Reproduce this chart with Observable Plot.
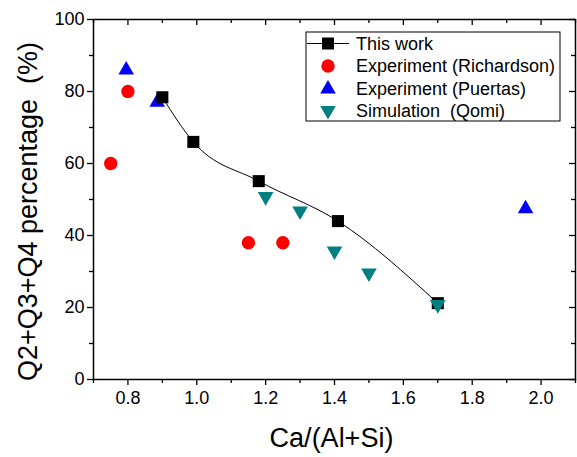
<!DOCTYPE html>
<html>
<head>
<meta charset="utf-8">
<script src="https://cdn.jsdelivr.net/npm/d3@7"></script>
<script src="https://cdn.jsdelivr.net/npm/@observablehq/plot@0.6"></script>
<style>
  body { margin: 0; background: #fff; }
  svg { font-family: "Liberation Sans", Arial, sans-serif; }
</style>
</head>
<body>
<div id="chart"></div>
<script>
// Data
const thisWorkX = [0.90, 0.99, 1.18, 1.41, 1.70];
const thisWorkY = [78.4, 66.0, 55.1, 44.0, 21.2];
const richardsonX = [0.75, 0.80, 1.15, 1.25];
const richardsonY = [60.0, 80.0, 38.0, 38.0];
const puertasX = [0.795, 0.885, 1.955];
const puertasY = [86.0, 77.0, 47.4];
const qomiX = [1.20, 1.30, 1.40, 1.50, 1.70];
const qomiY = [50.8, 46.8, 35.7, 29.6, 20.8];

const xMajor = [0.8, 1.0, 1.2, 1.4, 1.6, 1.8, 2.0];
const xMinor = [0.7, 0.9, 1.1, 1.3, 1.5, 1.7, 1.9, 2.1];
const yMajor = [0, 20, 40, 60, 80, 100];
const yMinor = [10, 30, 50, 70, 90];

const legendLabels = ["This work", "Experiment (Richardson)", "Experiment (Puertas)", "Simulation  (Qomi)"];

const zip = (xs, ys) => xs.map((x, i) => ({x, y: ys[i]}));
const thisWork = zip(thisWorkX, thisWorkY);
const richardson = zip(richardsonX, richardsonY);
const puertas = zip(puertasX, puertasY);
const qomi = zip(qomiX, qomiY);

const W = 577, H = 457, mL = 93, mR = 2, mT = 19, mB = 78;
const plotW = W - mL - mR, plotH = H - mT - mB;

const chart = Plot.plot({
  width: W, height: H,
  marginLeft: mL, marginRight: mR, marginTop: mT, marginBottom: mB,
  x: {domain: [0.7, 2.1]},
  y: {domain: [0, 100]},
  style: {fontFamily: '"Liberation Sans", Arial, sans-serif', background: "#fff", color: "#000"},
  marks: [
    // inward top / right ticks
    Plot.tickX(xMajor, {x: d => d, insetBottom: plotH - 6, stroke: "#000", strokeWidth: 1.3}),
    Plot.tickX(xMinor, {x: d => d, insetBottom: plotH - 4, stroke: "#000", strokeWidth: 1.3}),
    Plot.tickY(yMajor, {y: d => d, insetLeft: plotW - 6, stroke: "#000", strokeWidth: 1.3}),
    Plot.tickY(yMinor, {y: d => d, insetLeft: plotW - 4, stroke: "#000", strokeWidth: 1.3}),
    // outward bottom / left axes
    Plot.axisX({anchor: "bottom", ticks: xMajor, tickSize: 6, tickPadding: 6, tickFormat: d3.format(".1f"), fontSize: 18, label: null, strokeWidth: 1.3}),
    Plot.axisX({anchor: "bottom", ticks: xMinor, tickSize: 4, fill: "none", label: null, strokeWidth: 1.3}),
    Plot.axisY({anchor: "left", ticks: yMajor, tickSize: 6, tickPadding: 3, tickFormat: d3.format("d"), fontSize: 18, label: null, strokeWidth: 1.3}),
    Plot.axisY({anchor: "left", ticks: yMinor, tickSize: 4, fill: "none", label: null, strokeWidth: 1.3}),
    Plot.frame({stroke: "#000", strokeWidth: 1.5}),
    // axis titles
    Plot.text(["Ca/(Al+Si)"], {frameAnchor: "bottom", textAnchor: "middle", lineAnchor: "bottom", dy: 67, dx: -3, fontSize: 27, fill: "#000"}),
    Plot.text(["Q2+Q3+Q4 percentage  (%)"], {frameAnchor: "left", textAnchor: "middle", lineAnchor: "bottom", rotate: -90, dx: -57, dy: 12, fontSize: 27, fill: "#000"}),
    // data
    Plot.line(thisWork, {x: "x", y: "y", curve: "monotone-x", stroke: "#000", strokeWidth: 1}),
    Plot.dot(richardson, {x: "x", y: "y", symbol: "circle", r: 6.7, fill: "#ff0000"}),
    Plot.dot(puertas, {x: "x", y: "y", symbol: "triangle", r: 5.8, fill: "#0000ff"}),
    Plot.dot(thisWork, {x: "x", y: "y", symbol: "square", r: 6.8, fill: "#000"}),
    Plot.dot(qomi, {x: "x", y: "y", symbol: "triangle", r: 5.8, rotate: 180, fill: "#008080"})
  ]
});

document.getElementById("chart").appendChild(chart);

// Legend (inside the plot area, top right)
const svg = d3.select(chart);
const lg = svg.append("g").attr("class", "legend").attr("text-anchor", "start");
const box = {x: 306, y: 32, w: 254, h: 89};
lg.append("rect").attr("x", box.x).attr("y", box.y).attr("width", box.w).attr("height", box.h)
  .attr("fill", "#fff").attr("stroke", "#000").attr("stroke-width", 1);
const rowY = [43.5, 66, 89, 110.5];
const symX = 328, textX = 356;
// row 0: line + square
lg.append("line").attr("x1", 307).attr("x2", 349).attr("y1", rowY[0]).attr("y2", rowY[0]).attr("stroke", "#000").attr("stroke-width", 1);
lg.append("path").attr("d", d3.symbol(d3.symbolSquare, 144)()).attr("transform", `translate(${symX},${rowY[0]})`).attr("fill", "#000");
lg.append("path").attr("d", d3.symbol(d3.symbolCircle, Math.PI * 6.7 * 6.7)()).attr("transform", `translate(${symX},${rowY[1]})`).attr("fill", "#ff0000");
lg.append("path").attr("d", d3.symbol(d3.symbolTriangle, Math.PI * 5.8 * 5.8)()).attr("transform", `translate(${symX},${rowY[2]})`).attr("fill", "#0000ff");
lg.append("path").attr("d", d3.symbol(d3.symbolTriangle, Math.PI * 5.8 * 5.8)()).attr("transform", `translate(${symX},${rowY[3]}) rotate(180)`).attr("fill", "#008080");
legendLabels.forEach((t, i) => {
  lg.append("text").attr("x", textX).attr("y", rowY[i]).attr("dy", "0.35em")
    .attr("text-anchor", "start")
    .attr("font-size", 18).attr("fill", "#000").style("white-space", "pre").text(t);
});
</script>
</body>
</html>
